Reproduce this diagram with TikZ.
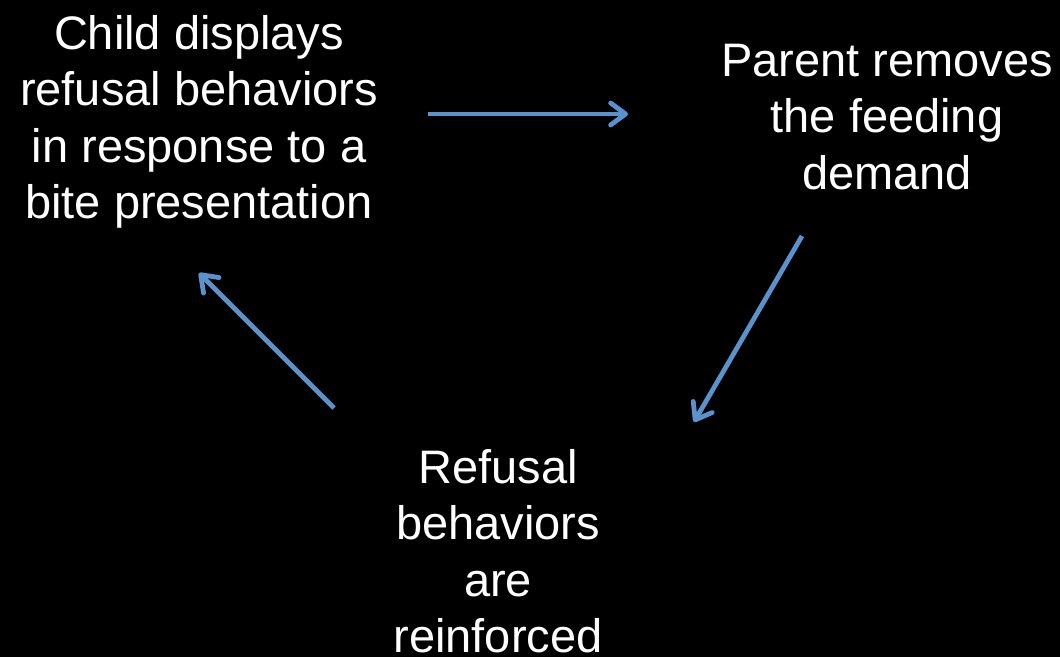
\documentclass[tikz,border=0pt]{standalone}
\usepackage{fontspec}
\setmainfont{Liberation Sans}
\usetikzlibrary{arrows.meta}
\definecolor{cyclearrow}{RGB}{90,146,206}
\begin{document}
\begin{tikzpicture}[x=1pt,y=-1pt,
  label text/.style={text=white,align=center,inner sep=0pt,
    font=\fontsize{47}{56.5}\selectfont},
  cycle arrow/.style={draw=cyclearrow,line width=4.8pt,
    -{Straight Barb[length=15pt,width=22pt,line cap=round,line join=round]}}]
  % black backdrop
  \fill[black] (0,0) rectangle (1060,657);
  \useasboundingbox (0,0) rectangle (1060,657);

  % the three stages of the cycle
  \node[label text] (child) at (199,122)
    {Child displays\\refusal behaviors\\in response to a\\bite presentation};
  \node[label text] (parent) at (887,117)
    {Parent removes\\the feeding\\demand};
  \node[label text] (reinforce) at (498,551)
    {Refusal\\behaviors\\are\\reinforced};

  % arrow end points
  \coordinate (a1s) at (428,114);
  \coordinate (a1e) at (628,114);
  \coordinate (a2s) at (802,236);
  \coordinate (a2e) at (694,422);
  \coordinate (a3s) at (334,408);
  \coordinate (a3e) at (199,273);

  \draw[cycle arrow] (a1s) -- (a1e);
  \draw[cycle arrow] (a2s) -- (a2e);
  \draw[cycle arrow] (a3s) -- (a3e);
\end{tikzpicture}
\end{document}
